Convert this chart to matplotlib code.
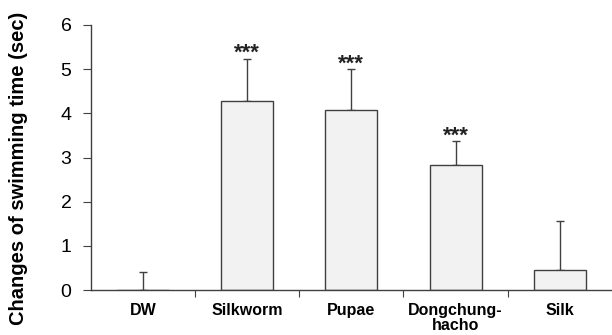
import matplotlib
matplotlib.use("Agg")
import matplotlib.pyplot as plt

# data
categories = ["DW", "Silkworm", "Pupae", "Dongchung-\nhacho", "Silk"]
means = [0.0, 4.28, 4.07, 2.84, 0.46]
errors = [0.40, 0.96, 0.93, 0.53, 1.11]
signif = ["", "***", "***", "***", ""]

plt.rcParams['font.family'] = ['Liberation Sans', 'DejaVu Sans']

fig = plt.figure(figsize=(6.12, 3.35), dpi=100)
ax = fig.add_axes([0.1487, 0.1343, 0.851, 0.7911])

x = list(range(len(categories)))
ax.bar(x, means, width=0.5, color='#f2f2f2', edgecolor='#404040', linewidth=1.0, zorder=2)
ax.errorbar(x, means, yerr=[[0] * len(errors), errors], fmt='none', ecolor='#404040',
            elinewidth=1.0, capsize=2.7, capthick=1.0, zorder=1)

# significance stars above the error bars
for xi, m, e, s in zip(x, means, errors, signif):
    if s:
        ax.text(xi, m + e - 0.12, s, ha='center', va='bottom', fontsize=16,
                fontweight='bold', color='#222222')

ax.set_xlim(-0.5, 4.5)
ax.set_ylim(0, 6)
ax.set_yticks(range(0, 7))
ax.set_xticks([0.5, 1.5, 2.5, 3.5])
ax.set_xticklabels([])
ax.set_xticks(x, minor=True)
ax.set_xticklabels(categories, minor=True, fontsize=11.5, fontweight='bold', linespacing=1.0)
ax.tick_params(axis='x', which='minor', length=0, pad=9)
ax.tick_params(axis='x', which='major', length=5, direction='out', color='#404040')
ax.tick_params(axis='y', length=6, direction='out', labelsize=14, color='#404040', pad=8)

for side in ['top', 'right']:
    ax.spines[side].set_visible(False)
for side in ['left', 'bottom']:
    ax.spines[side].set_color('#404040')
    ax.spines[side].set_linewidth(1.0)

ax.set_ylabel("Changes of swimming time (sec)", fontsize=14.5, fontweight='bold')
ax.yaxis.set_label_coords(-0.121, 0.46)

fig.savefig("out.png", dpi=100)
